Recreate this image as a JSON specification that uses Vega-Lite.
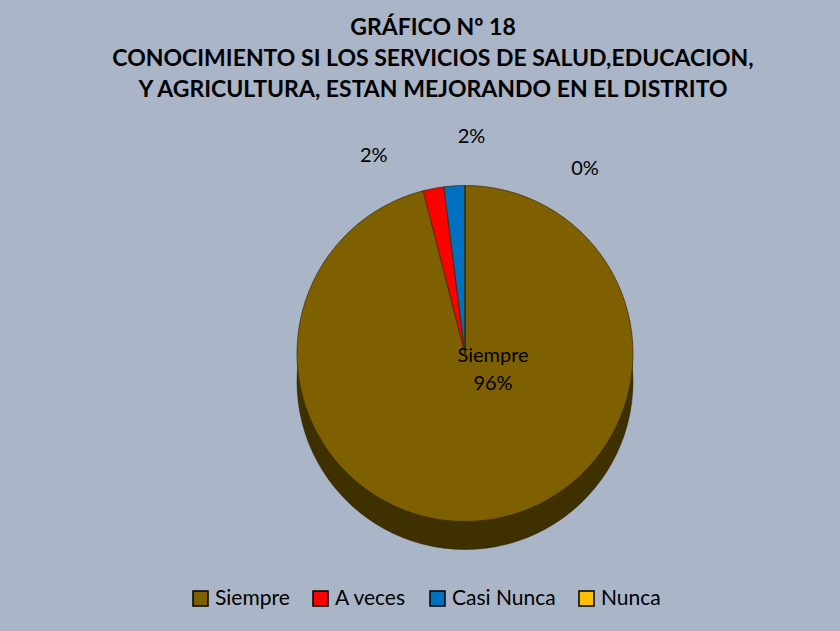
{
  "$schema": "https://vega.github.io/schema/vega-lite/v6.json",
  "width": 840,
  "height": 631,
  "autosize": {"type": "fit", "contains": "padding"},
  "background": "#AAB5C8",
  "padding": {"top": 26, "bottom": 60, "left": 10, "right": 10},
  "title": {
    "text": ["GRÁFICO Nº 18", "CONOCIMIENTO SI LOS SERVICIOS DE SALUD,EDUCACION,", "Y AGRICULTURA, ESTAN MEJORANDO EN EL DISTRITO"],
    "font": "Lato",
    "fontSize": 23,
    "fontWeight": "bold",
    "color": "#000000",
    "lineHeight": 31,
    "anchor": "middle",
    "dx": 13,
    "offset": 25
  },
  "data": {
    "values": [
      {"categoria": "Siempre", "valor": 96, "orden": 1},
      {"categoria": "A veces", "valor": 2, "orden": 2},
      {"categoria": "Casi Nunca", "valor": 2, "orden": 3},
      {"categoria": "Nunca", "valor": 0, "orden": 4}
    ]
  },
  "transform": [
    {"calculate": "datum.valor + '%'", "as": "pct"},
    {"calculate": "datum.categoria + '\\n' + datum.valor + '%'", "as": "etiqueta"}
  ],
  "encoding": {
    "theta": {"field": "valor", "type": "quantitative", "stack": true},
    "order": {"field": "orden", "type": "quantitative"}
  },
  "layer": [
    {
      "mark": {"type": "arc", "outerRadius": 168, "xOffset": 45, "yOffset": 28, "stroke": "#2a2000", "strokeWidth": 0.5},
      "encoding": {"color": {"value": "#3f3000"}}
    },
    {
      "mark": {"type": "arc", "outerRadius": 168, "xOffset": 45, "stroke": "#3a2c00", "strokeWidth": 0.7},
      "encoding": {
        "color": {
          "field": "categoria",
          "type": "nominal",
          "scale": {"domain": ["Siempre", "A veces", "Casi Nunca", "Nunca"], "range": ["#7F6000", "#FF0000", "#0070C0", "#FFC000"]},
          "legend": {"title": null, "orient": "none", "direction": "horizontal", "legendX": {"expr": "width/2 - 230"}, "legendY": {"expr": "height + 17"}}
        }
      }
    },
    {
      "mark": {"type": "text", "font": "Lato", "fontSize": 20, "color": "#000000", "lineBreak": "\n", "lineHeight": 28, "baseline": "middle", "xOffset": 45, "dx": 28, "dy": 2},
      "encoding": {
        "radius": {"value": 0},
        "text": {"condition": {"test": "datum.categoria === 'Siempre'", "field": "etiqueta"}, "value": ""}
      }
    },
    {
      "mark": {"type": "text", "font": "Lato", "fontSize": 20, "color": "#000000", "xOffset": 45, "dx": -55, "dy": -8},
      "encoding": {
        "radius": {"value": 193},
        "text": {"condition": {"test": "datum.categoria === 'A veces'", "field": "pct"}, "value": ""}
      }
    },
    {
      "mark": {"type": "text", "font": "Lato", "fontSize": 20, "color": "#000000", "xOffset": 45, "dx": 19, "dy": -19},
      "encoding": {
        "radius": {"value": 198},
        "text": {"condition": {"test": "datum.categoria === 'Casi Nunca'", "field": "pct"}, "value": ""}
      }
    },
    {
      "mark": {"type": "text", "font": "Lato", "fontSize": 20, "color": "#000000", "xOffset": 45, "dx": 120, "dy": 8},
      "encoding": {
        "radius": {"value": 193},
        "text": {"condition": {"test": "datum.categoria === 'Nunca'", "field": "pct"}, "value": ""}
      }
    }
  ],
  "config": {
    "view": {"stroke": null},
    "legend": {
      "symbolType": "square",
      "symbolSize": 225,
      "symbolStrokeColor": "#000000",
      "symbolStrokeWidth": 1.5,
      "labelFont": "Lato",
      "labelFontSize": 21,
      "labelColor": "#000000",
      "columnPadding": 20,
      "symbolOffset": 0
    }
  }
}
